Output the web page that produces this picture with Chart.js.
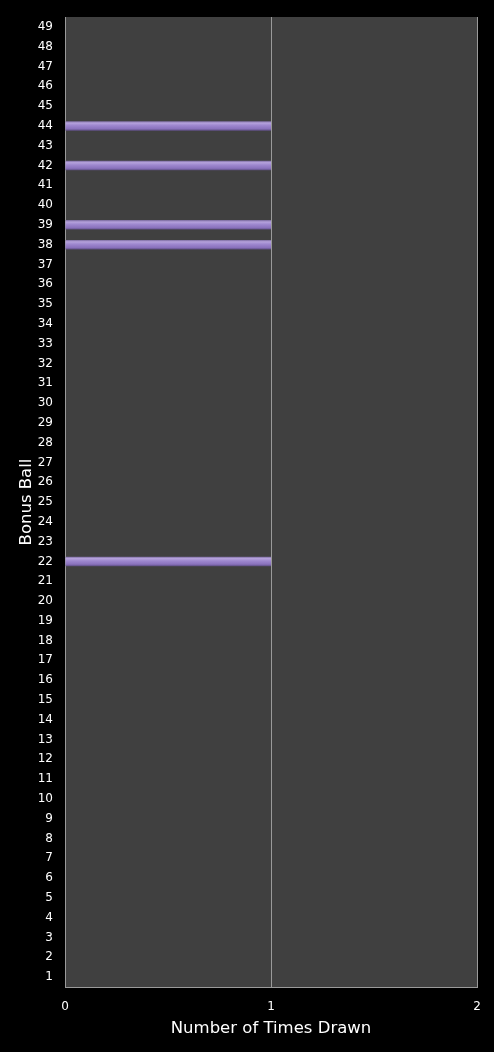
<!DOCTYPE html>
<html>
<head>
<meta charset="utf-8">
<script src="https://cdn.jsdelivr.net/npm/chart.js@4/dist/chart.umd.min.js"></script>
<style>
  html, body { margin: 0; padding: 0; background: #000; }
  #wrap { width: 494px; height: 1052px; }
</style>
</head>
<body>
<div id="wrap"><canvas id="bonusChart"></canvas></div>
<script>
// bonus ball numbers 1..49
const balls = [];
for (let n = 1; n <= 49; n++) balls.push(String(n));

// times drawn per ball (1..49)
const timesDrawn = [
  0, 0, 0, 0, 0, 0, 0, 0, 0, 0,
  0, 0, 0, 0, 0, 0, 0, 0, 0, 0,
  0, 1, 0, 0, 0, 0, 0, 0, 0, 0,
  0, 0, 0, 0, 0, 0, 0, 1, 1, 0,
  0, 1, 0, 1, 0, 0, 0, 0, 0
];

const xTicks = [0, 1, 2];

// dark grey plot background
const plotBg = {
  id: 'plotBg',
  beforeDraw(chart) {
    const { ctx, chartArea: a } = chart;
    ctx.save();
    ctx.fillStyle = '#404040';
    ctx.fillRect(a.left, a.top, a.right - a.left, a.bottom - a.top);
    ctx.restore();
  }
};

const BAR_PCT = 0.48;

function barFill(c) {
  const chart = c.chart;
  const y = chart.scales.y;
  if (!y || c.dataIndex === undefined || !chart.chartArea) return '#9a80d0';
  const mid = y.getPixelForTick(c.dataIndex);
  const half = (chart.chartArea.bottom - chart.chartArea.top) / balls.length * BAR_PCT / 2;
  const g = chart.ctx.createLinearGradient(0, mid - half, 0, mid + half);
  g.addColorStop(0, '#7a6a9e');
  g.addColorStop(0.2, '#b5a2dc');
  g.addColorStop(0.45, '#9e88cf');
  g.addColorStop(0.8, '#8a72bd');
  g.addColorStop(1, '#5f4f84');
  return g;
}

const ctx = document.getElementById('bonusChart').getContext('2d');

new Chart(ctx, {
  type: 'bar',
  data: {
    labels: balls,
    datasets: [{
      data: timesDrawn,
      backgroundColor: barFill,
      borderWidth: 0,
      barPercentage: BAR_PCT,
      categoryPercentage: 1
    }]
  },
  options: {
    indexAxis: 'y',
    responsive: true,
    maintainAspectRatio: false,
    animation: false,
    layout: { padding: { left: 0, right: 17, top: 17, bottom: 0 } },
    plugins: {
      legend: { display: false },
      tooltip: { enabled: false }
    },
    scales: {
      x: {
        min: 0,
        max: 2,
        afterBuildTicks(scale) { scale.ticks = xTicks.map(v => ({ value: v })); },
        afterFit(scale) { scale.height = 65; },
        grid: { color: '#9a9a9a', lineWidth: 1, drawTicks: false },
        border: { display: true, color: '#9a9a9a' },
        ticks: {
          color: '#ffffff',
          padding: 13,
          font: { family: 'DejaVu Sans', size: 12 }
        },
        title: {
          display: true,
          text: 'Number of Times Drawn',
          color: '#ffffff',
          font: { family: 'DejaVu Sans', size: 16.5 },
          padding: { top: 0, bottom: 13 }
        }
      },
      y: {
        reverse: true,
        afterFit(scale) { scale.width = 65; },
        grid: { display: false },
        border: { display: true, color: '#9a9a9a' },
        ticks: {
          color: '#ffffff',
          padding: 4,
          autoSkip: false,
          font: { family: 'DejaVu Sans', size: 12 }
        },
        title: {
          display: true,
          text: 'Bonus Ball',
          color: '#ffffff',
          font: { family: 'DejaVu Sans', size: 16.5 },
          padding: { top: 17, bottom: 0 }
        }
      }
    }
  },
  plugins: [plotBg]
});
</script>
</body>
</html>
